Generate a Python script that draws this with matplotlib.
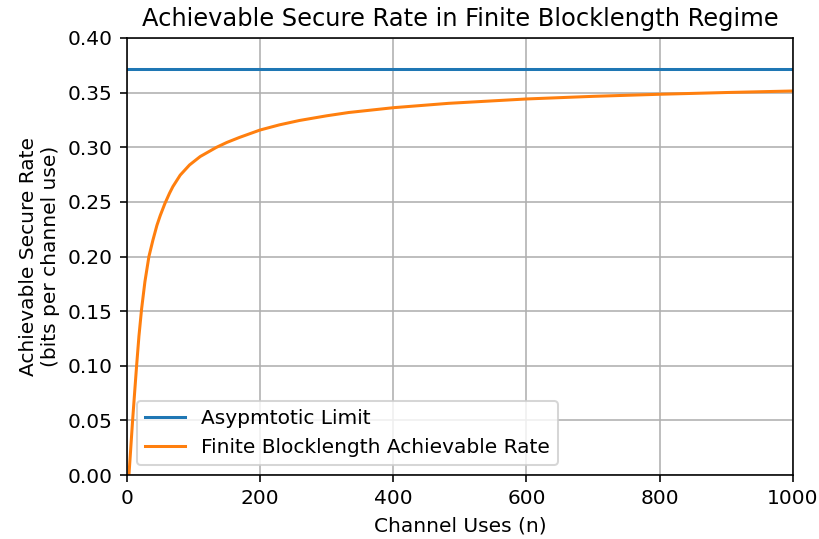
import numpy as np
import matplotlib.pyplot as plt

# values
asymptotic_limit = 0.372
n_values = [2, 3, 5, 8.5, 11, 14.5, 18, 22, 27, 33, 39, 45, 50, 57, 64, 69, 80,
            94, 110, 134, 150, 169, 200, 229, 259, 300, 333, 400, 483, 600, 700,
            800, 900, 1000]
finite_rate = [-0.012, 0.0, 0.018, 0.05, 0.071, 0.10, 0.127, 0.152, 0.177,
               0.20, 0.215, 0.2285, 0.2375, 0.2485, 0.258, 0.264, 0.2745, 0.2838,
               0.2915, 0.2998, 0.3044, 0.309, 0.3158, 0.3205, 0.3245, 0.3288,
               0.3318, 0.3362, 0.3402, 0.3442, 0.3466, 0.3485, 0.3501, 0.3515]

dpi = 145
fig = plt.figure(figsize=(819 / dpi, 539 / dpi), dpi=dpi)
ax = fig.add_axes([0.155, 0.1187, 0.813, 0.8108])

ax.plot(n_values, [asymptotic_limit] * len(n_values), label='Asypmtotic Limit')
ax.plot(n_values, finite_rate, label='Finite Blocklength Achievable Rate')

ax.set_xlim(0, 1000)
ax.set_ylim(0, 0.4)
ax.set_title('Achievable Secure Rate in Finite Blocklength Regime')
ax.set_xlabel('Channel Uses (n)')
ax.set_ylabel('Achievable Secure Rate\n(bits per channel use)')
ax.grid(True)
ax.legend(loc='lower left')

fig.savefig('out.png', dpi=dpi)
